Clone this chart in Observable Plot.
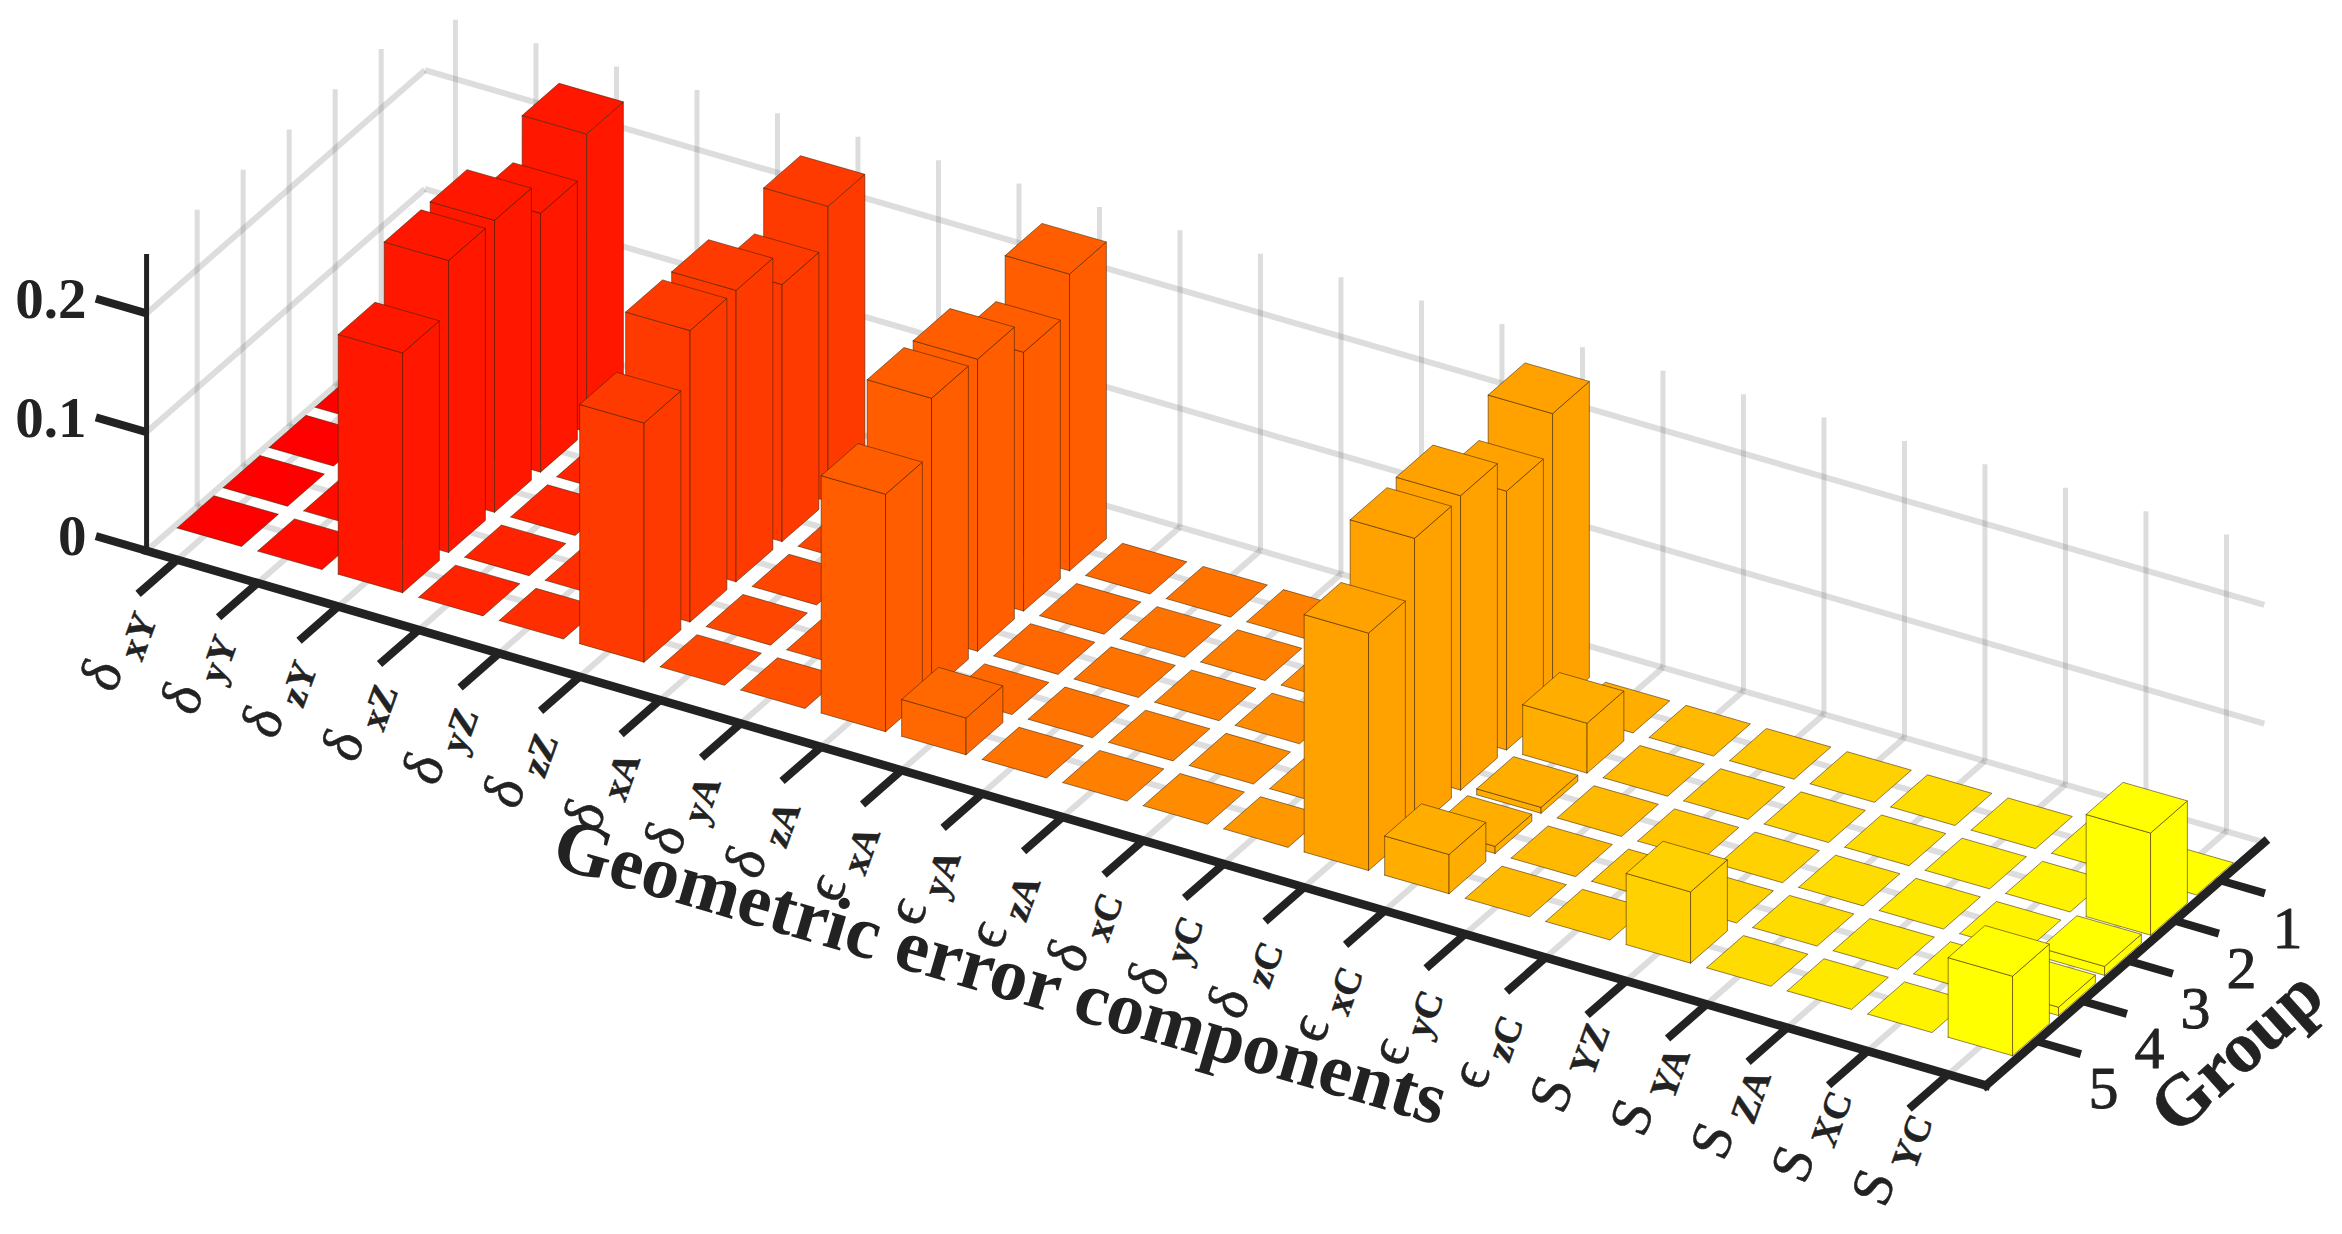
<!DOCTYPE html>
<html>
<head>
<meta charset="utf-8">
<style>html,body{margin:0;padding:0;background:#fff}svg{display:block}</style>
<script src="https://cdn.jsdelivr.net/npm/d3@7"></script>
<script src="https://cdn.jsdelivr.net/npm/@observablehq/plot@0.6"></script>
</head>
<body>
<div id="chart"></div>
<script>
const components = ["δ xY","δ yY","δ zY","δ xZ","δ yZ","δ zZ","δ xA","δ yA","δ zA","ϵ xA","ϵ yA","ϵ zA","δ xC","δ yC","δ zC","ϵ xC","ϵ yC","ϵ zC","S YZ","S YA","S ZA","S XC","S YC"];
const groups = [1,2,3,4,5];
const group1 = [0,0,.251,0,0,.2485,0,0,.250,0,0,0,0,0,.2495,0,0,0,0,0,0,0,0];
const group2 = [0,0,.218,0,0,.2165,0,0,.218,0,0,0,0,0,.218,.042,0,0,0,0,0,0,.086];
const group3 = [0,0,.246,0,0,.2455,0,0,.246,0,0,0,0,0,.248,.005,0,0,0,0,0,0,.0075];
const group4 = [0,0,.246,0,0,.2455,0,0,.247,0,0,0,0,0,.246,.006,0,0,0,0,0,0,.007];
const group5 = [0,0,.202,0,0,.2015,0,0,.200,.031,0,0,0,0,.200,.033,0,0,.060,0,0,0,.067];
const valuesByGroup = [group1,group2,group3,group4,group5];
const zTicks = [0,0.1,0.2];
const zLabels = ["0","0.1","0.2"];

const W = 2342, H = 1234;
// oblique view of the 3-D axes box; the bars sit on a very slightly flatter floor than the box
const view = {ox:1985.5, oy:1085, ix:80.5, iy:23.15, boxIy:23.4, gx:46, gy:40.2, zs:1187, iEnd:22.47, gEnd:6.1, iStart:-0.38, gStart:0.05, zTop:0.25, half:0.4};
const px = (i,g,z=0) => view.ox + (i-view.iEnd)*view.ix + (view.gEnd-g)*view.gx;
const py = (i,g,z=0) => view.oy + (i-view.iEnd)*view.iy - (view.gEnd-g)*view.gy - z*view.zs;
const by = (i,g,z=0) => view.oy + (i-view.iEnd)*view.boxIy - (view.gEnd-g)*view.gy - z*view.zs;

// bar faces, back to front
const faces = [];
const face = (id,c,pts) => { for (const [a,b,z] of [...pts,pts[0]]) faces.push({id,c,x:px(a,b,z),y:py(a,b,z)}); };
components.forEach((_,i)=>{
  groups.forEach((g,k)=>{
    const v = valuesByGroup[k][i], h = view.half;
    const l=i-h,r=i+h,f=g+h,b=g-h;
    const id=`${i}-${g}`;
    if (v>0){
      face(id+"front",i,[[l,f,0],[r,f,0],[r,f,v],[l,f,v]]);
      face(id+"right",i,[[r,f,0],[r,b,0],[r,b,v],[r,f,v]]);
    }
    face(id+"top",i,[[l,f,v],[r,f,v],[r,b,v],[l,b,v]]);
  });
});

// grid lines
const seg = (a,b) => ({x1:px(...a),y1:by(...a),x2:px(...b),y2:by(...b)});
const gridH = [], gridV = [];
for (const z of zTicks){
  gridH.push(seg([view.iStart,view.gEnd,z],[view.iStart,view.gStart,z]));
  gridH.push(seg([view.iStart,view.gStart,z],[view.iEnd,view.gStart,z]));
}
components.forEach((_,i)=>{
  gridH.push(seg([i,view.gEnd,0],[i,view.gStart,0]));
  gridV.push(seg([i,view.gStart,0],[i,view.gStart,view.zTop]));
});
groups.forEach(g=>{
  gridH.push(seg([view.iStart,g,0],[view.iEnd,g,0]));
  gridV.push(seg([view.iStart,g,0],[view.iStart,g,view.zTop]));
});

// axes
const axes = [
  seg([view.iStart,view.gEnd,0],[view.iEnd,view.gEnd,0]),
  seg([view.iEnd,view.gEnd,0],[view.iEnd,view.gStart,0])
];
const zAxis = [seg([view.iStart,view.gEnd,0],[view.iStart,view.gEnd,view.zTop])];
const ticks = [
  ...components.map((_,i)=>seg([i,view.gEnd,0],[i,view.gEnd+0.85,0])),
  ...groups.map(g=>seg([view.iEnd,g,0],[view.iEnd+0.55,g,0])),
  ...zTicks.map(z=>seg([view.iStart,view.gEnd,z],[view.iStart-0.63,view.gEnd,z]))
];

const xLabels = components.map((t,i)=>({t,x:px(i,view.gEnd)-63,y:by(i,view.gEnd)+135}));
const gLabels = groups.map(g=>({t:String(g),x:px(view.iEnd,g)+67,y:by(view.iEnd,g)+48}));
const zLab = zTicks.map((z,k)=>({t:zLabels[k],x:86,y:by(view.iStart-0.63,view.gEnd,z)+1}));

const chart = Plot.plot({
  width:W,height:H,margin:0,
  x:{domain:[0,W],range:[0,W],axis:null},
  y:{domain:[0,H],range:[0,H],axis:null},
  color:{type:"linear",domain:[0,components.length-1],range:["#ff0000","#ffff00"]},
  style:{background:"#fff"},
  marks:[
    Plot.link(gridH,{x1:"x1",y1:"y1",x2:"x2",y2:"y2",stroke:"#777",strokeOpacity:0.25,strokeWidth:6}),
    Plot.link(gridV,{x1:"x1",y1:"y1",x2:"x2",y2:"y2",stroke:"#777",strokeOpacity:0.25,strokeWidth:5}),
    Plot.link(axes,{x1:"x1",y1:"y1",x2:"x2",y2:"y2",stroke:"#222",strokeWidth:8.5,strokeLinecap:"square"}),
    Plot.link(zAxis,{x1:"x1",y1:"y1",x2:"x2",y2:"y2",stroke:"#222",strokeWidth:5}),
    Plot.link(ticks,{x1:"x1",y1:"y1",x2:"x2",y2:"y2",stroke:"#222",strokeWidth:8}),
    Plot.line(faces,{x:"x",y:"y",z:"id",fill:"c",stroke:"#3a2000",strokeOpacity:0.55,strokeWidth:1,curve:"linear"}),
    Plot.text(xLabels,{x:"x",y:"y",text:"t",textAnchor:"start",fontFamily:"Liberation Serif",fontSize:58,fill:"#222",stroke:"#222",strokeWidth:0.5,className:"xlab"}),
    Plot.text(gLabels,{x:"x",y:"y",text:"t",fontFamily:"Liberation Serif",fontSize:60,fill:"#222",stroke:"#222",strokeWidth:0.9}),
    Plot.text(zLab,{x:"x",y:"y",text:"t",textAnchor:"end",fontFamily:"Liberation Serif",fontWeight:"bold",fontSize:57,fill:"#222"}),
    Plot.text(["Geometric error components"],{x:()=>1000,y:()=>972,text:d=>d,rotate:16.3,fontFamily:"Liberation Serif",fontWeight:"bold",fontSize:75,fill:"#222"}),
    Plot.text(["Group"],{x:()=>2236,y:()=>1051,text:d=>d,rotate:-42,fontFamily:"Liberation Serif",fontWeight:"bold",fontSize:72,fill:"#222",stroke:"#222",strokeWidth:0.6})
  ]
});

// tick labels lie in the skewed floor plane, with a subscript
d3.select(chart).selectAll(".xlab text").each(function(){
  const [main,sub] = this.textContent.split(" ");
  const el = d3.select(this);
  el.attr("transform",(el.attr("transform")||"")+" matrix(0.34,-0.94,0.92,0.38,0,0)").attr("y",0).attr("dy",null);
  el.text(main);
  el.append("tspan").attr("dx",13).attr("dy",15).attr("font-size",38).attr("font-weight","bold").text(sub);
});
document.getElementById("chart").append(chart);
</script>
</body>
</html>
